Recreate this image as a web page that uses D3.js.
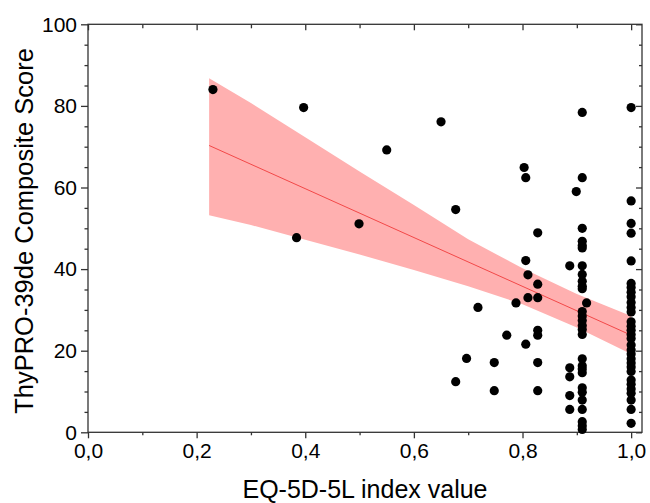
<!DOCTYPE html>
<html>
<head>
<meta charset="utf-8">
<script src="https://cdn.jsdelivr.net/npm/d3@7"></script>
<style>
  body { margin: 0; background: #fff; }
  text { font-family: "Liberation Sans", Arial, sans-serif; fill: #000; }
</style>
</head>
<body>
<div id="chart"></div>
<script>
// scattered single observations
const singleIndex = [0.230, 0.384, 0.397, 0.499, 0.550, 0.650, 0.677, 0.677, 0.697, 0.718,
                     0.748, 0.748, 0.771, 0.788, 0.803, 0.806, 0.806, 0.810, 0.810, 0.806,
                     0.828, 0.828, 0.828, 0.828, 0.828, 0.828, 0.828,
                     0.887, 0.887, 0.887, 0.887, 0.887, 0.899, 0.918];
const singleScore = [84.0, 47.7, 79.6, 51.1, 69.2, 76.1, 54.6, 12.4, 18.1, 30.6,
                     17.1, 10.2, 23.8, 31.7, 64.9, 62.4, 42.1, 38.6, 33.0, 21.6,
                     48.9, 36.3, 33.0, 25.0, 23.8, 17.1, 10.2,
                     40.8, 15.8, 13.6, 9.0, 5.6, 59.0, 31.7];
// stacked columns at index 0.91 and 1.0
const col091Index = 0.910;
const col091Score = [78.4, 62.4, 50.0, 46.8, 45.8, 45.2, 40.8, 38.7, 37.0, 35.8, 35.2, 29.6,
                     28.5, 27.4, 26.2, 25.2, 24.0, 18.0, 16.3, 15.5, 14.6, 10.9, 9.8, 7.9,
                     5.6, 2.6, 1.6, 0.7];
const col100Index = 1.0;
const col100Score = [79.6, 56.7, 51.2, 48.8, 42.0, 36.5, 35.5, 34.3, 33.2, 31.8, 30.6, 29.5,
                     27.1, 26.0, 25.0, 24.0, 23.0, 21.4, 20.2, 19.2, 18.0, 17.0, 16.0, 14.9,
                     12.8, 11.8, 10.6, 9.6, 7.9, 5.6, 2.2];

// fitted line and 95% confidence band
const fitX = [0.223, 1.0];
const fitY = [70.3, 23.8];
const bandX     = [0.223, 0.30, 0.40, 0.50, 0.60, 0.70, 0.80, 0.90, 1.00];
const bandUpper = [86.8, 80.7, 72.3, 63.9, 55.7, 47.3, 40.2, 33.9, 28.5];
const bandLower = [53.2, 50.8, 47.2, 43.6, 39.8, 35.8, 31.4, 25.7, 19.2];

const xMajor = [0, 0.2, 0.4, 0.6, 0.8, 1.0];
const xMinor = [0.1, 0.3, 0.5, 0.7, 0.9];
const yMajor = [0, 20, 40, 60, 80, 100];
const yMinor = [5, 10, 15, 25, 30, 35, 45, 50, 55, 65, 70, 75, 85, 90, 95];

const width = 650, height = 503;
const margin = { top: 24.3, right: 8, bottom: 70.7, left: 88 };

const svg = d3.select('#chart').append('svg')
    .attr('width', width).attr('height', height);

const x = d3.scaleLinear().domain([0, 1.02]).range([margin.left, width - margin.right]);
const y = d3.scaleLinear().domain([0, 100]).range([height - margin.bottom, margin.top]);

const locale = d3.formatLocale({ decimal: ',', thousands: '.', grouping: [3], currency: ['', ''] });
const fmtX = locale.format('.1f');

const points = singleIndex.map((v, i) => [v, singleScore[i]])
    .concat(col091Score.map(s => [col091Index, s]))
    .concat(col100Score.map(s => [col100Index, s]));

// confidence band
svg.append('path')
    .datum(bandX.map((v, i) => [v, bandLower[i], bandUpper[i]]))
    .attr('fill', '#ffb0b0')
    .attr('d', d3.area().x(d => x(d[0])).y0(d => y(d[1])).y1(d => y(d[2])));

// regression line
svg.append('path')
    .datum(fitX.map((v, i) => [v, fitY[i]]))
    .attr('fill', 'none').attr('stroke', '#f03c3c').attr('stroke-width', 0.9)
    .attr('d', d3.line().x(d => x(d[0])).y(d => y(d[1])));

// axes
const x0 = margin.left, x1 = width - margin.right;
const y0 = height - margin.bottom, y1 = margin.top;

function ticks(axis, tx, ty) {
    const g = svg.append('g').attr('transform', `translate(${tx},${ty})`).call(axis);
    g.select('.domain').remove();
    g.selectAll('line').attr('stroke', '#333').attr('stroke-width', 1.3);
    return g;
}

const bottom = ticks(d3.axisBottom(x).tickValues(xMajor).tickSize(6).tickPadding(5).tickFormat(fmtX), 0, y0);
bottom.selectAll('text').style('font-size', '21px');
ticks(d3.axisBottom(x).tickValues(xMinor).tickSize(3).tickFormat(''), 0, y0);
ticks(d3.axisBottom(x).tickValues(xMajor).tickSize(6).tickFormat(''), 0, y1);
ticks(d3.axisBottom(x).tickValues(xMinor).tickSize(4).tickFormat(''), 0, y1);

const left = ticks(d3.axisLeft(y).tickValues(yMajor).tickSize(7).tickPadding(4).tickFormat(d3.format('d')), x0, 0);
left.selectAll('text').style('font-size', '21px');
ticks(d3.axisLeft(y).tickValues(yMinor).tickSize(3.5).tickFormat(''), x0, 0);
ticks(d3.axisLeft(y).tickValues(yMajor).tickSize(6).tickFormat(''), x1, 0);
ticks(d3.axisLeft(y).tickValues(yMinor).tickSize(3).tickFormat(''), x1, 0);

svg.append('rect')
    .attr('x', x0).attr('y', y1).attr('width', x1 - x0).attr('height', y0 - y1)
    .attr('fill', 'none').attr('stroke', '#333').attr('stroke-width', 1.3);

// data points
svg.append('g').selectAll('circle')
    .data(points).join('circle')
    .attr('cx', d => x(d[0])).attr('cy', d => y(d[1]))
    .attr('r', 4.6).attr('fill', '#000');

// axis titles
svg.append('text')
    .attr('x', (x0 + x1) / 2).attr('y', 498)
    .attr('text-anchor', 'middle').style('font-size', '25px')
    .text('EQ-5D-5L index value');

svg.append('text')
    .attr('transform', `translate(33,231) rotate(-90)`)
    .attr('text-anchor', 'middle').style('font-size', '25.5px')
    .text('ThyPRO-39de Composite Score');
</script>
</body>
</html>
